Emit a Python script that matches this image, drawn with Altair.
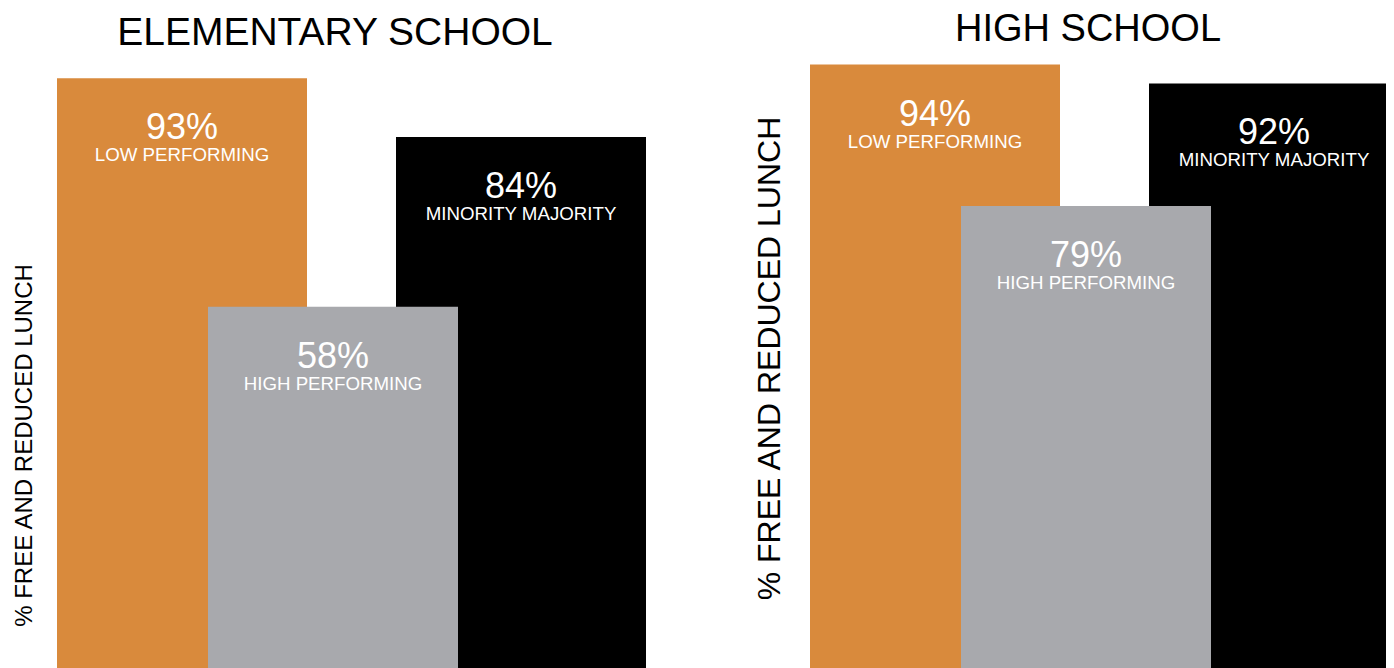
import altair as alt
import pandas as pd

# ---- data (draw order: orange, black, then gray on top) ----
groups = ["LOW PERFORMING", "MINORITY MAJORITY", "HIGH PERFORMING"]
elementary = [93, 84, 58]
high_school = [94, 92, 79]
panel_titles = ["ELEMENTARY SCHOOL", "HIGH SCHOOL"]
y_title = "% FREE AND REDUCED LUNCH"

# ---- styling / layout ----
colors = ["#D98A3C", "#000000", "#A8A9AD"]
FONT = "Liberation Sans"
# horizontal slot (in bar widths) where each bar starts; bars overlap
slot_start = {"LOW PERFORMING": 0.0, "HIGH PERFORMING": 0.604, "MINORITY MAJORITY": 1.356}
slot_expr = "{" + ",".join(f"'{k}': {v}" for k, v in slot_start.items()) + "}[datum.group]"


def panel(values, title, ydom, width, ysize, ypad, title_y, tsize, tdx, tdy):
    df = pd.DataFrame({"group": groups, "value": values,
                       "label": [f"{v}%" for v in values]})
    base = alt.Chart(df).transform_calculate(
        x0=slot_expr
    ).transform_calculate(
        x1="datum.x0 + 1", xm="datum.x0 + 0.5"
    )
    xs = alt.Scale(domain=[0, width / 250.0], nice=False, zero=False)
    ys = alt.Scale(domain=ydom, nice=False, zero=False)
    axis_kw = dict(title=y_title, labels=False, ticks=False, domain=False,
                   grid=False, titleFontSize=ysize, titleFont=FONT,
                   titleFontWeight="normal", titleColor="#000000",
                   titlePadding=ypad, titleY=title_y)
    bars = base.mark_bar(clip=True).encode(
        x=alt.X("x0:Q", scale=xs, axis=None),
        x2="x1:Q",
        y=alt.Y("value:Q", scale=ys, stack=None, axis=alt.Axis(**axis_kw)),
        y2=alt.datum(ydom[0]),
        color=alt.Color("group:N", scale=alt.Scale(domain=groups, range=colors), legend=None),
    )
    pct = base.mark_text(font=FONT, fontSize=36, color="#FFFFFF", baseline="alphabetic",
                         align="center", dy=61).encode(
        x=alt.X("xm:Q", scale=xs, axis=None),
        y=alt.Y("value:Q", scale=ys, stack=None),
        text="label:N",
    )
    lab = base.mark_text(font=FONT, fontSize=18.7, color="#FFFFFF", baseline="alphabetic",
                         align="center", dy=83).encode(
        x=alt.X("xm:Q", scale=xs, axis=None),
        y=alt.Y("value:Q", scale=ys, stack=None),
        text="group:N",
    )
    return alt.layer(bars, pct, lab).properties(
        width=width, height=610,
        title=alt.TitleParams(title, fontSize=tsize, font=FONT, fontWeight="normal",
                              color="#000000", anchor="middle", offset=14, dx=tdx, dy=tdy),
    )


left = panel(elementary, panel_titles[0], [2.7, 96.1], 590, 24, 21, 387, 39, -17, 9)
right = panel(high_school, panel_titles[1], [30.0, 94.7], 576, 32, 24, 300, 38, -10, 5)

chart = alt.hconcat(left, right, spacing=106).properties(
    padding={"left": 4, "top": 3, "right": 0, "bottom": 0}
).configure_view(stroke=None)

chart.save("out.html", embed_options={"renderer": "svg", "actions": False})
